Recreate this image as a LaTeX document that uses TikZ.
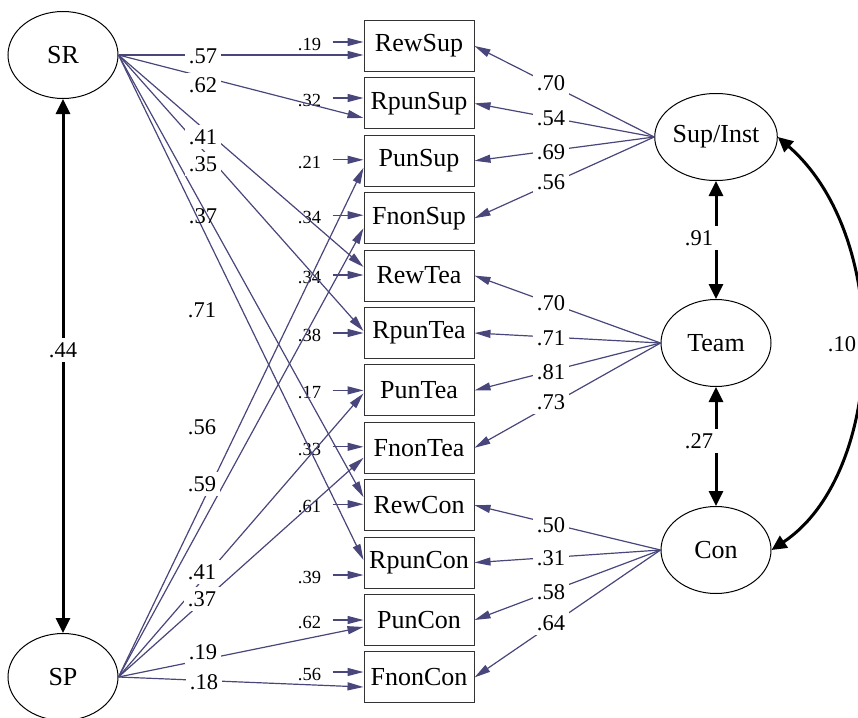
\documentclass[tikz,border=0pt]{standalone}
\usepackage{fontspec}
\setmainfont{Liberation Serif}
\usepackage{tikz}
\usetikzlibrary{arrows.meta,calc,shapes.geometric}
\usepackage{xcolor}
\definecolor{pathblue}{RGB}{72,70,122}

\begin{document}
\begin{tikzpicture}[x=1pt,y=-1pt,
  latent/.style={draw,line width=1pt,ellipse,minimum width=110pt,minimum height=87pt,inner sep=0pt,font=\fontsize{26}{28}\selectfont},
  obs/.style={draw=black!80,line width=1pt,minimum width=110pt,minimum height=51pt,inner sep=0pt,font=\fontsize{26}{28}\selectfont},
  reg/.style={pathblue,line width=1.2pt,-{Triangle[length=16pt,width=8pt]}},
  cov/.style={line width=3pt,{Triangle[length=15pt,width=14pt]}-{Triangle[length=15pt,width=14pt]}},
  wt/.style={fill=white,inner sep=4pt,font=\fontsize{22.5}{24}\selectfont},
  evar/.style={inner sep=1pt,font=\fontsize{18.5}{20}\selectfont}]
  \useasboundingbox (0,0) rectangle (858,717);

  \node[latent] (sr) at (63,55) {SR};
  \node[latent] (sp) at (63,677) {SP};
  \node[latent] (supinst) at (716,137) {Sup/Inst};
  \node[latent] (team) at (716,343) {Team};
  \node[latent] (con) at (716,550) {Con};

  \foreach \nm/\txt [count=\i from 0] in {rewsup/RewSup,rpunsup/RpunSup,punsup/PunSup,fnonsup/FnonSup,
      rewtea/RewTea,rpuntea/RpunTea,puntea/PunTea,fnontea/FnonTea,
      rewcon/RewCon,rpuncon/RpunCon,puncon/PunCon,fnoncon/FnonCon}
    \node[obs] (\nm) at (419,{46+57.4*\i}) {\txt};

  % error terms
  \foreach \nm/\dy/\val in {rewsup/-4/.19,rpunsup/-5.4/.32,punsup/-1/.21,fnonsup/-3/.34,
      rewtea/-0.6/.34,rpuntea/0/.38,puntea/0/.17,fnontea/-1/.33,
      rewcon/-1/.61,rpuncon/12.4/.39,puncon/0/.62,fnoncon/-5.4/.56}{
    \coordinate (\nm-e) at ($(\nm.west)+(-31,\dy)$);
    \draw[reg] (\nm-e) -- ($(\nm.west)+(0,\dy)$);
    \node[evar] (\nm-v) at ($(\nm-e)+(-23,2.5)$) {\val};
  }

  \foreach \t/\dy in {rewsup/9,rpunsup/14.6,rewtea/-8.6,rpuntea/-2,rewcon/-8,rpuncon/-2.6}
    \draw[reg] (sr.east) -- ($(\t.west)+(0,\dy)$);
  \foreach \t/\dy in {punsup/7,fnonsup/10,puntea/3,fnontea/10,puncon/7,fnoncon/9.6}
    \draw[reg] (sp.east) -- ($(\t.west)+(0,\dy)$);

  \foreach \f/\t in {supinst/rewsup,supinst/rpunsup,supinst/punsup,supinst/fnonsup,
      team/rewtea,team/rpuntea,team/puntea,team/fnontea,
      con/rewcon,con/rpuncon,con/puncon,con/fnoncon}
    \draw[reg] (\f.west) -- (\t.east);

  \draw[cov] (sr.south) -- (sp.north);
  \draw[cov] (supinst.south) -- (team.north);
  \draw[cov] (team.south) -- (con.north);
  \draw[cov] (supinst.east) .. controls +(116,101) and +(114,-76) .. (con.east);

  % weights
  \foreach \x/\y/\val [count=\i] in {203/56/.57,203/85/.62,203/137/.41,203/164/.35,
      202/310/.71,202/427/.56,202/484/.59,202/572/.41,202/599/.37,203/652/.19,204/682/.18}
    \node[wt] (w\i) at (\x,\y) {\val};
  \node[wt,fill=none] (w0) at (203,216) {.37};
  \foreach \y/\val [count=\i] in {83/.70,118/.54,152/.69,182/.56,303/.70,338/.71,
      372/.81,402/.73,525/.50,558/.31,592/.58,623/.64}
    \node[wt] (l\i) at (551,\y) {\val};

  \node[wt] (c1) at (63,350) {.44};
  \node[wt,inner xsep=6pt] (c2) at (699,238) {.91};
  \node[wt,inner xsep=6pt] (c3) at (699,441) {.27};
  \node[wt,inner xsep=2pt] (c4) at (842,344) {.10};
\end{tikzpicture}
\end{document}
